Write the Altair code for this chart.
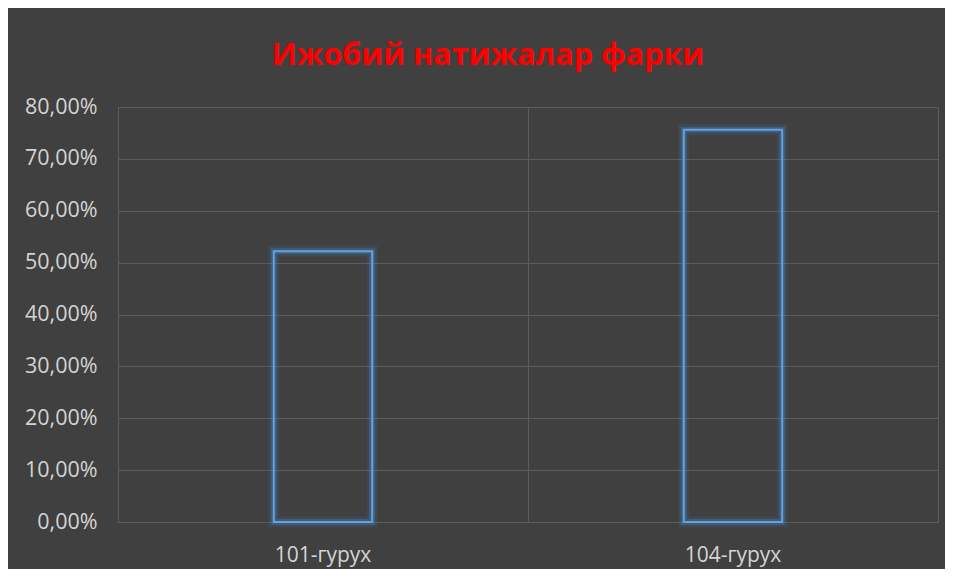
import altair as alt
import pandas as pd

groups = ["101-гурух", "104-гурух"]
values = [0.522, 0.756]
title_text = "Ижобий натижалар фарки"

df = pd.DataFrame({"group": groups, "value": values})

GRID = "#5c5c5c"
LABEL = "#d4d4d4"
FONT = "Open Sans"

x_enc = alt.X("group:N", sort=groups, title=None,
              scale=alt.Scale(paddingInner=0, paddingOuter=0),
              axis=alt.Axis(labelAngle=0, labelFontSize=21, labelColor=LABEL, labelFont=FONT,
                            labelBaseline="alphabetic", labelPadding=39, ticks=False, tickSize=0,
                            domain=False, grid=True, gridColor=GRID, gridWidth=1,
                            bandPosition=0))
y_enc = alt.Y("value:Q", title=None,
              scale=alt.Scale(domain=[0, 0.8], nice=False),
              axis=alt.Axis(values=[0, 0.1, 0.2, 0.3, 0.4, 0.5, 0.6, 0.7, 0.8],
                            labelExpr="replace(format(datum.value, '.2%'), '.', ',')",
                            labelFontSize=21.5, labelColor=LABEL, labelFont=FONT,
                            labelPadding=21, ticks=False, tickSize=0, domain=False,
                            grid=True, gridColor=GRID, gridWidth=1))

base = alt.Chart(df)
bw = alt.RelativeBandSize(0.24)
glow1 = base.mark_bar(width=bw, fillOpacity=0, stroke="#3a7fc8", strokeWidth=11, strokeOpacity=0.14).encode(x=x_enc, y=y_enc)
glow2 = base.mark_bar(width=bw, fillOpacity=0, stroke="#4a8ed6", strokeWidth=6, strokeOpacity=0.28).encode(x=x_enc, y=y_enc)
line = base.mark_bar(width=bw, fillOpacity=0, stroke="#63a2e2", strokeWidth=2).encode(x=x_enc, y=y_enc)

chart = alt.layer(glow1, glow2, line).properties(
    width=820, height=415,
    background="#404040",
    padding={"left": 110, "top": 99, "right": 7, "bottom": 47},
    autosize=alt.AutoSizeParams(type="none"),
    title=alt.TitleParams(title_text, color="#ff0000", font=FONT, fontSize=30.5, fontWeight="bold",
                          anchor="middle", baseline="alphabetic", offset=1, dx=-40),
).configure_view(stroke=GRID, strokeWidth=1)

chart.save("out.html", embed_options={"renderer": "svg", "actions": False})
